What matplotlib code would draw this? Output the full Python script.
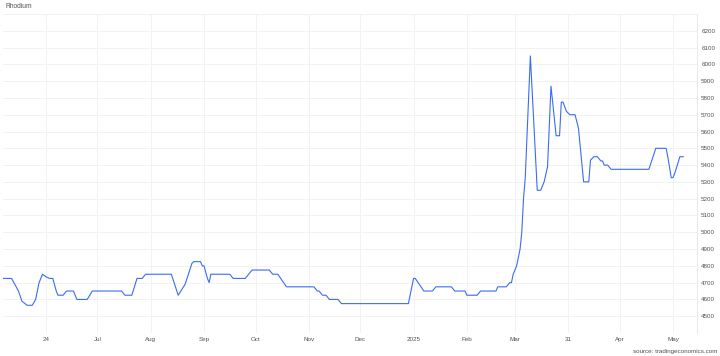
import matplotlib

matplotlib.use("Agg")
import matplotlib.pyplot as plt
import pandas as pd
from matplotlib.ticker import FixedFormatter

plt.rcParams["font.family"] = ["Liberation Sans", "DejaVu Sans"]

# Rhodium price
DATES = [
    "2024-05-07", "2024-05-12", "2024-05-16", "2024-05-18", "2024-05-21",
    "2024-05-24", "2024-05-26", "2024-05-28", "2024-05-30", "2024-06-01",
    "2024-06-03", "2024-06-05", "2024-06-07", "2024-06-08", "2024-06-11",
    "2024-06-13", "2024-06-17", "2024-06-19", "2024-06-25", "2024-06-28",
    "2024-07-15", "2024-07-17", "2024-07-21", "2024-07-24", "2024-07-27",
    "2024-07-29", "2024-08-13", "2024-08-17", "2024-08-21", "2024-08-25",
    "2024-08-26", "2024-08-30", "2024-08-31", "2024-09-01", "2024-09-03",
    "2024-09-04", "2024-09-05", "2024-09-16", "2024-09-18", "2024-09-25",
    "2024-09-29", "2024-10-09", "2024-10-11", "2024-10-14", "2024-10-19",
    "2024-11-04", "2024-11-06", "2024-11-07", "2024-11-09", "2024-11-11",
    "2024-11-13", "2024-11-18", "2024-11-20", "2024-12-29", "2025-01-01",
    "2025-01-02", "2025-01-07", "2025-01-12", "2025-01-14", "2025-01-23",
    "2025-01-25", "2025-01-31", "2025-02-01", "2025-02-07", "2025-02-09",
    "2025-02-18", "2025-02-19", "2025-02-24", "2025-02-26", "2025-02-27",
    "2025-02-28", "2025-03-02", "2025-03-04", "2025-03-05", "2025-03-06",
    "2025-03-07", "2025-03-10", "2025-03-14", "2025-03-16", "2025-03-18",
    "2025-03-20", "2025-03-22", "2025-03-25", "2025-03-27", "2025-03-28",
    "2025-03-29", "2025-03-31", "2025-04-02", "2025-04-05", "2025-04-07",
    "2025-04-10", "2025-04-13", "2025-04-14", "2025-04-16", "2025-04-18",
    "2025-04-20", "2025-04-21", "2025-04-22", "2025-04-24", "2025-04-26",
    "2025-05-18", "2025-05-22", "2025-05-28", "2025-05-29", "2025-05-31",
    "2025-06-01", "2025-06-02", "2025-06-04", "2025-06-05", "2025-06-07",
]
PRICES = [
    4725, 4725, 4650, 4590, 4565,
    4565, 4600, 4700, 4750, 4735,
    4725, 4725, 4650, 4625, 4625,
    4650, 4650, 4600, 4600, 4650,
    4650, 4625, 4625, 4725, 4725,
    4750, 4750, 4625, 4690, 4815,
    4825, 4825, 4800, 4800, 4725,
    4700, 4750, 4750, 4725, 4725,
    4775, 4775, 4750, 4750, 4675,
    4675, 4650, 4650, 4625, 4625,
    4600, 4600, 4575, 4575, 4725,
    4725, 4650, 4650, 4675, 4675,
    4650, 4650, 4625, 4625, 4650,
    4650, 4675, 4675, 4700, 4700,
    4750, 4800, 4900, 5000, 5200,
    5320, 6050, 5250, 5250, 5300,
    5390, 5870, 5575, 5575, 5775,
    5775, 5720, 5700, 5700, 5620,
    5300, 5300, 5430, 5450, 5450,
    5425, 5425, 5400, 5400, 5375,
    5375, 5500, 5500, 5450, 5325,
    5325, 5350, 5415, 5450, 5450,
]

TICK_DATES = pd.date_range("2024-06-01", "2025-06-01", freq="MS")
TICK_LABELS = ["24", "Jul", "Aug", "Sep", "Oct", "Nov", "Dec", "2025",
               "Feb", "Mar", "31", "Apr", "May"]
Y_LABELLED = list(range(4500, 6201, 100))

LINE_COLOR = "#3a6cf4"
TEXT_COLOR = "#505050"
GRID_COLOR = "#f2f2f2"

fig = plt.figure(figsize=(7.2, 3.56), dpi=100)
ax = fig.add_axes([3 / 720, 23 / 356, 694 / 720, 319 / 356])

ax.plot(pd.to_datetime(DATES), PRICES, color=LINE_COLOR, lw=0.8,
        solid_joinstyle="round")

ax.set_ylim(4400, 6300)
ax.set_xlim(pd.Timestamp("2024-05-07"), pd.Timestamp("2025-06-15"))

y_grid = list(range(4400, 6301, 100))
ax.set_yticks(y_grid)
ax.set_yticklabels([str(v) if v in Y_LABELLED else "" for v in y_grid])
ax.yaxis.tick_right()
ax.set_xticks(TICK_DATES)
ax.xaxis.set_major_formatter(FixedFormatter(TICK_LABELS))

ax.tick_params(axis="both", length=0, labelsize=4.5, labelcolor=TEXT_COLOR, pad=3)
ax.grid(True, color=GRID_COLOR, lw=0.7)
ax.set_axisbelow(True)

for side in ("top", "left", "bottom"):
    ax.spines[side].set_visible(False)
ax.spines["right"].set_color("#e8e8e8")
ax.spines["right"].set_linewidth(0.7)

fig.text(5 / 720, 1 - 7 / 356, "Rhodium", fontsize=4.8, color=TEXT_COLOR,
         ha="left", va="center")
fig.text(717 / 720, 1 - 351 / 356, "source: tradingeconomics.com", fontsize=4.5,
         color=TEXT_COLOR, ha="right", va="center")

fig.savefig("out.png", dpi=100)
